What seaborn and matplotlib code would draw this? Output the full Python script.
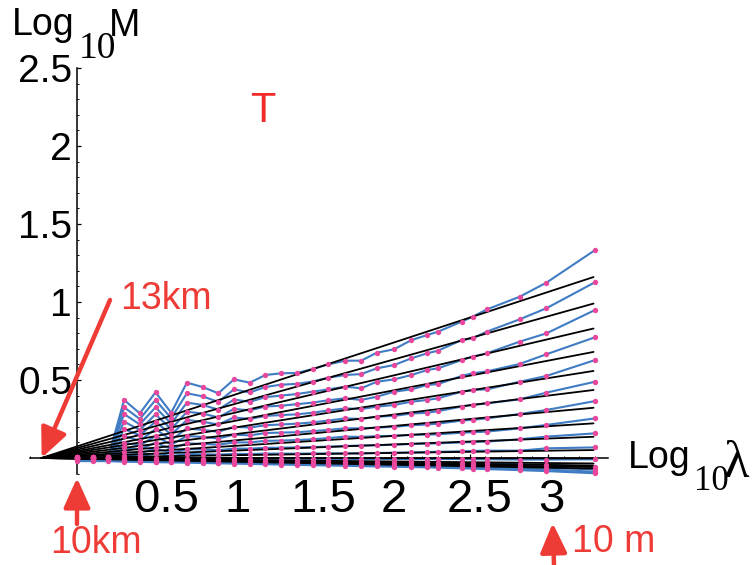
import numpy as np
import pandas as pd
import matplotlib
matplotlib.use("Agg")
import matplotlib.pyplot as plt
from matplotlib.transforms import Affine2D
from matplotlib.ticker import FixedLocator, NullFormatter
import seaborn as sns

# ---- data -------------------------------------------------------------
# log10 of the scale ratio (0 = 10 km)
log_lambda = [0.0, 0.1, 0.2, 0.3, 0.4, 0.5, 0.6, 0.7, 0.8, 0.9, 1.0, 1.1, 1.2,
              1.3, 1.4, 1.5, 1.6, 1.71, 1.81, 1.91, 2.02, 2.13, 2.23, 2.30,
              2.45, 2.52, 2.61, 2.82, 2.99, 3.30]

# log10 of the trace moments, one list per moment order (highest first)
curve_01 = [0.008, 0.008, 0.008, 0.372, 0.286, 0.421, 0.29, 0.483, 0.455, 0.415, 0.504, 0.483, 0.532,
            0.543, 0.545, 0.57, 0.60, 0.624, 0.624, 0.675, 0.697, 0.756, 0.788, 0.81,
            0.874, 0.906, 0.952, 1.034, 1.124, 1.333]
curve_02 = [0.007, 0.007, 0.007, 0.325, 0.25, 0.372, 0.255, 0.415, 0.395, 0.36, 0.44, 0.42, 0.455,
            0.47, 0.475, 0.49, 0.515, 0.532, 0.538, 0.575, 0.596, 0.639, 0.671, 0.688,
            0.756, 0.767, 0.81, 0.889, 0.96, 1.127]
curve_03 = [0.006, 0.006, 0.006, 0.282, 0.215, 0.325, 0.22, 0.355, 0.34, 0.31, 0.375, 0.36, 0.39,
            0.40, 0.41, 0.425, 0.44, 0.457, 0.447, 0.489, 0.504, 0.532, 0.564, 0.575,
            0.628, 0.65, 0.671, 0.746, 0.799, 0.949]
curve_04 = [0.005, 0.005, 0.005, 0.233, 0.18, 0.28, 0.185, 0.297, 0.285, 0.26, 0.315, 0.305, 0.33,
            0.335, 0.345, 0.355, 0.37, 0.383, 0.372, 0.393, 0.425, 0.44, 0.468, 0.474,
            0.526, 0.543, 0.555, 0.603, 0.665, 0.774]
curve_05 = [0.004, 0.004, 0.004, 0.186, 0.145, 0.233, 0.15, 0.244, 0.232, 0.215, 0.26, 0.25, 0.27,
            0.275, 0.28, 0.29, 0.305, 0.318, 0.314, 0.329, 0.34, 0.361, 0.372, 0.383,
            0.425, 0.436, 0.44, 0.489, 0.526, 0.628]
curve_06 = [0.003, 0.003, 0.003, 0.141, 0.11, 0.186, 0.115, 0.19, 0.18, 0.168, 0.2, 0.195, 0.21,
            0.215, 0.22, 0.228, 0.24, 0.254, 0.25, 0.265, 0.27, 0.285, 0.29, 0.30,
            0.33, 0.34, 0.35, 0.376, 0.419, 0.489]
curve_07 = [0.002, 0.002, 0.002, 0.098, 0.08, 0.141, 0.085, 0.141, 0.135, 0.125, 0.15, 0.145, 0.16,
            0.163, 0.165, 0.172, 0.18, 0.19, 0.19, 0.195, 0.20, 0.21, 0.215, 0.22,
            0.24, 0.245, 0.254, 0.282, 0.308, 0.365]
curve_08 = [0.001, 0.001, 0.001, 0.068, 0.055, 0.098, 0.058, 0.094, 0.09, 0.085, 0.10, 0.10, 0.11,
            0.112, 0.115, 0.12, 0.128, 0.137, 0.135, 0.14, 0.142, 0.148, 0.15, 0.152,
            0.162, 0.165, 0.169, 0.19, 0.212, 0.254]
curve_09 = [0.0, 0.0, 0.0, 0.04, 0.03, 0.062, 0.033, 0.056, 0.055, 0.05, 0.06, 0.06, 0.065,
            0.066, 0.068, 0.07, 0.073, 0.077, 0.08, 0.082, 0.085, 0.09, 0.092, 0.094,
            0.10, 0.102, 0.105, 0.12, 0.137, 0.158]
curve_10 = [0.0, 0.0, 0.0, 0.015, 0.01, 0.03, 0.012, 0.026, 0.024, 0.022, 0.026, 0.026, 0.028,
            0.028, 0.028, 0.029, 0.03, 0.03, 0.03, 0.032, 0.034, 0.036, 0.038, 0.04,
            0.043, 0.045, 0.047, 0.047, 0.062, 0.068]
curve_11 = [0.0, 0.0, 0.0, -0.003, -0.002, -0.003, -0.003, -0.004, -0.004, -0.004, -0.005, -0.005, -0.005,
            -0.005, -0.005, -0.006, -0.006, -0.006, -0.006, -0.006, -0.007, -0.007, -0.007, -0.007,
            -0.007, -0.008, -0.008, -0.01, -0.01, -0.008]
curve_12 = [-0.005, -0.005, -0.005, -0.01, -0.01, -0.012, -0.012, -0.013, -0.014, -0.015, -0.016, -0.017, -0.018,
            -0.019, -0.02, -0.021, -0.022, -0.023, -0.024, -0.025, -0.026, -0.027, -0.028, -0.029,
            -0.031, -0.033, -0.035, -0.04, -0.045, -0.056]
curve_13 = [-0.01, -0.01, -0.01, -0.016, -0.017, -0.018, -0.019, -0.02, -0.021, -0.023, -0.024, -0.026, -0.027,
            -0.029, -0.03, -0.031, -0.033, -0.034, -0.036, -0.037, -0.039, -0.04, -0.042, -0.043,
            -0.046, -0.048, -0.05, -0.056, -0.062, -0.073]
curve_14 = [-0.015, -0.015, -0.015, -0.02, -0.021, -0.023, -0.024, -0.026, -0.027, -0.029, -0.031, -0.033, -0.034,
            -0.036, -0.038, -0.04, -0.041, -0.043, -0.045, -0.047, -0.049, -0.05, -0.052, -0.054,
            -0.057, -0.06, -0.062, -0.068, -0.074, -0.088]
curve_15 = [-0.02, -0.02, -0.02, -0.024, -0.025, -0.027, -0.028, -0.03, -0.032, -0.034, -0.036, -0.038, -0.04,
            -0.042, -0.044, -0.046, -0.048, -0.05, -0.052, -0.054, -0.056, -0.058, -0.06, -0.062,
            -0.066, -0.068, -0.071, -0.078, -0.084, -0.098]

curves = [curve_01, curve_02, curve_03, curve_04, curve_05, curve_06, curve_07, curve_08,
          curve_09, curve_10, curve_11, curve_12, curve_13, curve_14, curve_15]

# straight-line fits: all start at the outer scale (13 km) and end at fit_end
fit_span = [-0.225, 3.29]
fit_end = [1.16, 0.99, 0.83, 0.68, 0.558, 0.436, 0.322, 0.222, 0.136, 0.051,
           -0.002, -0.035, -0.048, -0.058, -0.068]

x_ticks = [0.5, 1, 1.5, 2, 2.5, 3]
x_tick_labels = ["0.5", "1", "1.5", "2", "2.5", "3"]
y_ticks = [0.5, 1, 1.5, 2, 2.5]
y_tick_labels = ["0.5", "1", "1.5", "2", "2.5"]

# ---- long-form tables ---------------------------------------------------
moments = pd.DataFrame([
    {"curve": i, "log_lambda": x, "log_M": y}
    for i, c in enumerate(curves) for x, y in zip(log_lambda, c)
])
fits = pd.DataFrame([
    {"curve": i, "log_lambda": x, "log_M": 0.0 if j == 0 else e}
    for i, e in enumerate(fit_end) for j, x in enumerate(fit_span)
])

# ---- style --------------------------------------------------------------
sns.set_style("white")
plt.rcParams["font.family"] = ["Liberation Sans", "DejaVu Sans"]
plt.rcParams["text.color"] = "black"

BLUE = "#3F7CC3"
PINK = "#E8479C"
RED = "#EE3B36"
T_RED = "#F22A2A"
SERIF = ["Liberation Serif", "DejaVu Serif"]

W, H = 755, 565
fig = plt.figure(figsize=(W / 100, H / 100), dpi=100)
ax = fig.add_axes([0, 0, 1, 1])
ax.set_facecolor("white")

# data range so that the axes frame fills the canvas
x0_px, y0_px, sx, sy = 77, 458, 157, 156
ax.set_xlim(-x0_px / sx, (W - x0_px) / sx)
ax.set_ylim((y0_px - H) / sy, y0_px / sy)

sns.lineplot(data=moments, x="log_lambda", y="log_M", units="curve", estimator=None,
             sort=False, color=BLUE, lw=1.5, ax=ax, zorder=2)
sns.lineplot(data=fits, x="log_lambda", y="log_M", units="curve", estimator=None,
             sort=False, color="black", lw=1.3, ax=ax, zorder=3)
sns.scatterplot(data=moments, x="log_lambda", y="log_M", color=PINK, s=15,
                linewidth=0, ax=ax, zorder=4)
ax.set_xlabel("")
ax.set_ylabel("")

# ---- axes through the origin ------------------------------------------
for s in ("top", "right"):
    ax.spines[s].set_visible(False)
ax.spines["left"].set_position(("data", 0))
ax.spines["bottom"].set_position(("data", 0))
ax.spines["left"].set_bounds(-0.1, 2.5)
ax.spines["bottom"].set_bounds(-0.3, 3.38)
for s in ("left", "bottom"):
    ax.spines[s].set_linewidth(1.1)
    ax.spines[s].set_color("black")

ax.xaxis.set_major_locator(FixedLocator(x_ticks))
ax.yaxis.set_major_locator(FixedLocator(y_ticks))
ax.xaxis.set_minor_locator(FixedLocator(np.arange(-3, 34) / 10))
ax.yaxis.set_minor_locator(FixedLocator(np.arange(-1, 25) / 10))
ax.xaxis.set_major_formatter(NullFormatter())
ax.yaxis.set_major_formatter(NullFormatter())
ax.tick_params(which="major", direction="in", length=3.2, width=0.9, color="black",
               bottom=True, left=True)
ax.tick_params(which="minor", direction="in", length=1.6, width=0.7, color="black",
               bottom=True, left=True)

# tick labels
for v, lbl in zip(x_ticks, x_tick_labels):
    dx = 7.5 if "." in lbl else 2.2
    ax.annotate(lbl, xy=(v, 0), xytext=(dx, -14.4), textcoords="offset points",
                ha="center", va="top", fontsize=34, color="black")
for v, lbl in zip(y_ticks, y_tick_labels):
    ax.annotate(lbl, xy=(0, v), xytext=(-3.6, 0), textcoords="offset points",
                ha="right", va="center_baseline", fontsize=28, color="black")

# ---- axis titles (pixel placement) -------------------------------------
img = Affine2D().scale(1, -1).translate(0, H)
fig.text(12, 35, "Log", transform=img, fontsize=27, ha="left", va="baseline", color="black")
fig.text(79, 58, "10", transform=img, fontsize=27, ha="left", va="baseline",
         family=SERIF, color="black")
fig.text(109, 36, "M", transform=img, fontsize=27, ha="left", va="baseline", color="black")

fig.text(628, 468, "Log", transform=img, fontsize=27, ha="left", va="baseline", color="black")
fig.text(694, 490, "10", transform=img, fontsize=25, ha="left", va="baseline",
         family=SERIF, color="black")
fig.text(724, 477, "λ", transform=img, fontsize=38, ha="left", va="baseline",
         family=SERIF, color="black")

fig.text(250, 122, "T", transform=img, fontsize=30, ha="left", va="baseline", color=T_RED)

# ---- annotations -------------------------------------------------------
arrow = dict(arrowstyle="-|>,head_length=1.0,head_width=0.45", mutation_scale=18,
             lw=3.2, color=RED, shrinkA=0, shrinkB=0)
ax.annotate("", xy=(fit_span[0], 0), xycoords="data",
            xytext=(110, H - 300), textcoords="figure pixels", arrowprops=arrow)
ax.annotate("", xy=(0, -0.128), xycoords="data",
            xytext=(77, H - 524), textcoords="figure pixels", arrowprops=arrow)
ax.annotate("", xy=(3.03, -0.417), xycoords="data",
            xytext=(554, 0), textcoords="figure pixels", arrowprops=arrow)

fig.text(120, 309, "13km", transform=img, fontsize=27, ha="left", va="baseline", color=RED)
fig.text(50, 553, "10km", transform=img, fontsize=27, ha="left", va="baseline", color=RED)
fig.text(572, 552, "10 m", transform=img, fontsize=27, ha="left", va="baseline", color=RED)

fig.savefig("out.png", dpi=100, facecolor="white")
